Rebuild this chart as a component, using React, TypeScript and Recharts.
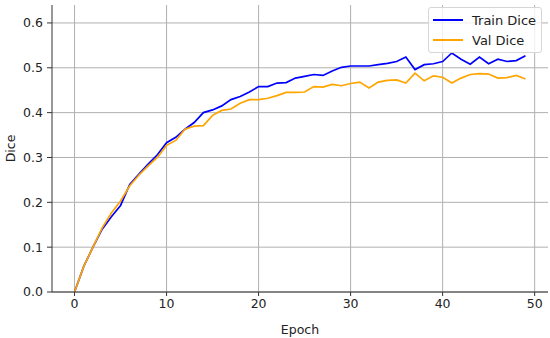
import { LineChart, Line, XAxis, YAxis, CartesianGrid, Legend } from "recharts";

const epochs = Array.from({ length: 50 }, (_, i) => i);

const trainDice = [
  0.0, 0.057, 0.1, 0.14, 0.168, 0.193, 0.24, 0.263, 0.285, 0.306,
  0.333, 0.345, 0.363, 0.378, 0.4, 0.406, 0.415, 0.429, 0.436, 0.446,
  0.458, 0.458, 0.466, 0.467, 0.477, 0.481, 0.485, 0.483, 0.493, 0.501,
  0.504, 0.504, 0.504, 0.507, 0.51, 0.514, 0.524, 0.496, 0.507, 0.509,
  0.514, 0.533, 0.519, 0.508, 0.524, 0.509, 0.519, 0.514, 0.516, 0.527,
];

const valDice = [
  0.0, 0.057, 0.1, 0.143, 0.176, 0.203, 0.237, 0.261, 0.281, 0.3,
  0.327, 0.338, 0.363, 0.37, 0.371, 0.394, 0.405, 0.408, 0.421, 0.429,
  0.429, 0.432, 0.438, 0.445, 0.445, 0.446, 0.458, 0.457, 0.463, 0.46,
  0.465, 0.468, 0.455, 0.468, 0.472, 0.473, 0.466, 0.488, 0.471, 0.482,
  0.479, 0.466, 0.477, 0.485, 0.487, 0.486, 0.477, 0.478, 0.483, 0.475,
];

const xTicks = [0, 10, 20, 30, 40, 50];
const yTicks = [0, 0.1, 0.2, 0.3, 0.4, 0.5, 0.6];

const data = epochs.map((e, i) => ({
  epoch: e,
  train: trainDice[i],
  val: valDice[i],
}));

const FONT = "'DejaVu Sans', sans-serif";
const tickStyle = { fontSize: 12.5, fill: "#222", fontFamily: FONT };

function LegendBox({ payload }: any) {
  return (
    <div
      style={{
        background: "rgba(255,255,255,0.8)",
        border: "1px solid #d6d6d6",
        borderRadius: 3,
        padding: "2px 5px 2px 4px",
        fontFamily: FONT,
        fontSize: 13,
        color: "#222",
      }}
    >
      {(payload || []).map((p: any) => (
        <div
          key={p.value}
          style={{ display: "flex", alignItems: "center", height: 20 }}
        >
          <svg width={30} height={4} style={{ marginRight: 9 }}>
            <line x1={0} y1={2} x2={30} y2={2} stroke={p.color} strokeWidth={2} />
          </svg>
          <span>{p.value}</span>
        </div>
      ))}
    </div>
  );
}

export default function App() {
  return (
    <div style={{ position: "absolute", left: 0, top: 0, background: "#fff" }}>
      <LineChart
        width={550}
        height={338}
        data={data}
        margin={{ top: 5, right: 2, left: 0, bottom: 0 }}
      >
        <CartesianGrid
          stroke="#b0b0b0"
          strokeWidth={1}
          horizontalValues={yTicks}
          verticalValues={xTicks}
        />
        <XAxis
          dataKey="epoch"
          type="number"
          domain={[-2.45, 51.45]}
          ticks={xTicks}
          allowDataOverflow
          height={46}
          tickSize={4}
          tickMargin={3}
          tick={tickStyle}
          stroke="#333"
          tickLine={{ stroke: "#333" }}
          label={{
            value: "Epoch",
            position: "insideBottom",
            offset: 4,
            style: { fontSize: 12.5, fill: "#222", fontFamily: FONT },
          }}
        />
        <YAxis
          type="number"
          domain={[0, 0.64]}
          ticks={yTicks}
          allowDataOverflow
          width={52}
          tickSize={5}
          tickMargin={4}
          tick={tickStyle}
          tickFormatter={(v: number) => v.toFixed(1)}
          stroke="#333"
          tickLine={{ stroke: "#333" }}
          label={(props: any) => {
            const vb = props.viewBox || {};
            const cy = (vb.y ?? 5) + (vb.height ?? 287) / 2;
            return (
              <text
                x={15}
                y={cy}
                transform={`rotate(-90, 15, ${cy})`}
                textAnchor="middle"
                fontSize={12.5}
                fill="#222"
                fontFamily={FONT}
              >
                Dice
              </text>
            );
          }}
        />
        <Legend
          layout="vertical"
          align="center"
          verticalAlign="middle"
          wrapperStyle={{ position: "absolute", left: 428, top: 7, width: "auto", right: "auto", bottom: "auto" }}
          content={<LegendBox />}
        />
        <Line
          type="linear"
          dataKey="train"
          name="Train Dice"
          stroke="#0000ff"
          strokeWidth={1.7}
          dot={false}
          isAnimationActive={false}
        />
        <Line
          type="linear"
          dataKey="val"
          name="Val Dice"
          stroke="#ffa500"
          strokeWidth={1.7}
          dot={false}
          isAnimationActive={false}
        />
      </LineChart>
    </div>
  );
}
